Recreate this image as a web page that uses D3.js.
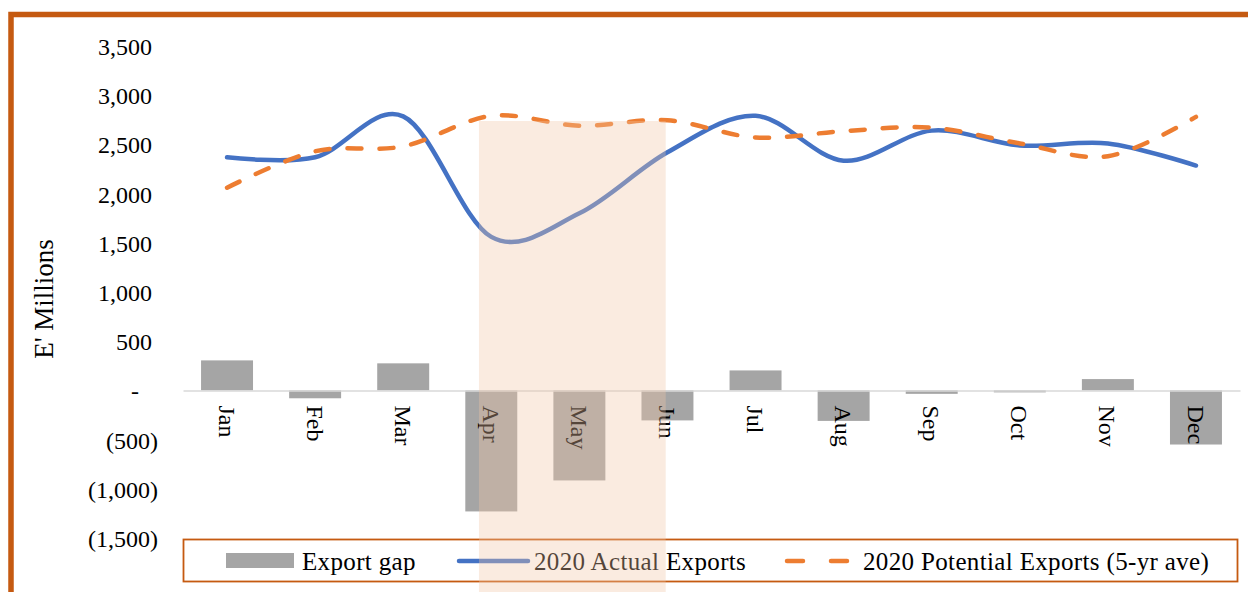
<!DOCTYPE html>
<html><head><meta charset="utf-8">
<script src="https://cdn.jsdelivr.net/npm/d3@7"></script>
<style>
html,body{margin:0;padding:0;background:#fff;}
svg{display:block;font-family:"Liberation Serif","Times New Roman",serif;}
</style></head>
<body><svg id="c" width="1248" height="592"></svg>
<script>
const months = ["Jan","Feb","Mar","Apr","May","Jun","Jul","Aug","Sep","Oct","Nov","Dec"];
const actualExports = [2370, 2370, 2785, 1560, 1800, 2420, 2790, 2335, 2640, 2490, 2510, 2285];
const potentialExports = [2060, 2430, 2480, 2790, 2690, 2745, 2570, 2635, 2670, 2510, 2380, 2780];
const exportGap = [305, -80, 275, -1230, -915, -305, 203, -310, -35, -20, 115, -550];
const yTicks = [-1500, -1000, -500, 0, 500, 1000, 1500, 2000, 2500, 3000, 3500];
const legendLabels = ["Export gap", "2020 Actual Exports", "2020 Potential Exports (5-yr ave)"];
const shadedMonths = ["Apr", "Jun"];

const svg = d3.select("#c");
const W = 1248, H = 592;
const orange = "#C55A11", blue = "#4472C4", lineOrange = "#ED7D31", gray = "#A5A5A5";

const x = d3.scaleBand().domain(months).range([183, 1240]).padding(0);
const y = d3.scaleLinear().domain([-1500, 3500]).range([538, 46]);
const cx = m => x(m) + x.bandwidth() / 2;

// frame
svg.append("path").attr("d", `M11,${H} L11,14.5 L${W},14.5`)
  .attr("fill", "none").attr("stroke", orange).attr("stroke-width", 5.5);

// y axis
const fmt = v => v === 0 ? "-" : v < 0 ? "(" + d3.format(",")(-v) + ")" : d3.format(",")(v);
const ya = svg.append("g").attr("transform", "translate(158,0)")
  .call(d3.axisLeft(y).tickValues(yTicks).tickFormat(fmt).tickSize(0).tickPadding(0));
ya.select(".domain").remove();
ya.selectAll("text").attr("font-size", 24).attr("fill", "#000")
  .attr("font-family", "Liberation Serif, serif")
  .attr("x", d => d < 0 ? 0 : d === 0 ? -19 : -6).attr("dy", "0.35em");

// y title
svg.append("text").attr("transform", "translate(44,299) rotate(-90)")
  .attr("text-anchor", "middle").attr("dy", "0.35em").attr("font-size", 27).attr("fill", "#000")
  .text("E' Millions");

// bars
const bw = x.bandwidth() * 0.59;
svg.append("g").selectAll("rect").data(exportGap).join("rect")
  .attr("x", (d, i) => cx(months[i]) - bw / 2)
  .attr("y", d => y(Math.max(0, d)))
  .attr("width", bw)
  .attr("height", d => Math.abs(y(d) - y(0)))
  .attr("fill", gray);

// x axis at zero
const xa = svg.append("g").attr("transform", `translate(0,${y(0)})`)
  .call(d3.axisBottom(x).tickSize(0));
xa.select(".domain").attr("stroke", "#D9D9D9").attr("stroke-width", 1.5);
xa.selectAll("text").attr("font-size", 24).attr("fill", "#000")
  .attr("font-family", "Liberation Serif, serif")
  .attr("y", 0).attr("x", 15).attr("dy", "0.35em")
  .attr("transform", "rotate(90)").style("text-anchor", "start");

// lines
const line = d3.line().x((d, i) => cx(months[i])).y(d => y(d)).curve(d3.curveCatmullRom.alpha(0));
svg.append("path").datum(actualExports).attr("d", line)
  .attr("fill", "none").attr("stroke", blue).attr("stroke-width", 4.5).attr("stroke-linecap", "round");
svg.append("path").datum(potentialExports).attr("d", line)
  .attr("fill", "none").attr("stroke", lineOrange).attr("stroke-width", 4.5)
  .attr("stroke-linecap", "round").attr("stroke-dasharray", "14 18");

// legend
const lg = svg.append("g");
lg.append("rect").attr("x", 183.5).attr("y", 539.5).attr("width", 1054).attr("height", 42)
  .attr("fill", "#fff").attr("stroke", "#C55A11").attr("stroke-width", 1.8);
lg.append("rect").attr("x", 226).attr("y", 553).attr("width", 68).attr("height", 15).attr("fill", gray);
const lt = (xp, s) => lg.append("text").attr("x", xp).attr("y", 561).attr("dy", "0.35em")
  .attr("font-size", 25).attr("letter-spacing", 0.35).text(s);
lt(302, legendLabels[0]);
lg.append("line").attr("x1", 459).attr("x2", 528).attr("y1", 561).attr("y2", 561)
  .attr("stroke", blue).attr("stroke-width", 4.5).attr("stroke-linecap", "round");
lt(534, legendLabels[1]);
lg.append("line").attr("x1", 787).attr("x2", 848).attr("y1", 561).attr("y2", 561)
  .attr("stroke", lineOrange).attr("stroke-width", 4.5).attr("stroke-linecap", "round")
  .attr("stroke-dasharray", "16 28");
lt(863, legendLabels[2]);

// shaded period overlay
const sx0 = cx(shadedMonths[0]) - 0.14 * x.bandwidth();
const sx1 = cx(shadedMonths[1]) - 0.02 * x.bandwidth();
svg.append("rect").attr("x", sx0).attr("y", 121).attr("width", sx1 - sx0).attr("height", H - 121)
  .attr("fill", "rgb(241,198,166)").attr("opacity", 0.35);
</script></body></html>
